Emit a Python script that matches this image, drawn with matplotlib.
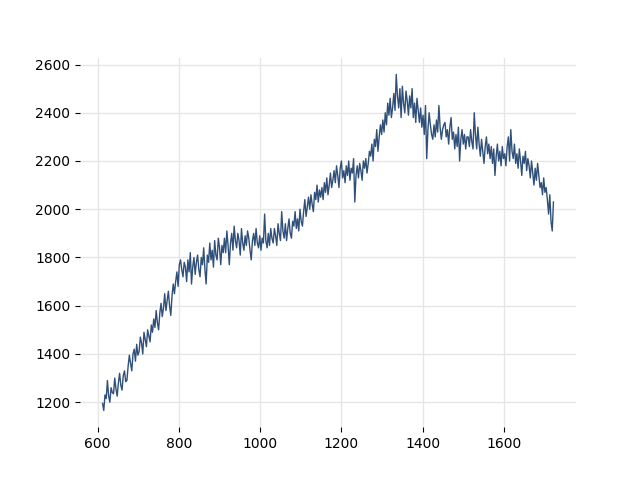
import numpy as np
import matplotlib
matplotlib.use("Agg")
import matplotlib.pyplot as plt

# x sampled every 3 units from 612 to 1722
x = np.arange(612, 1723, 3)
y = [
    1195, 1166, 1230, 1215, 1290, 1225, 1200, 1260, 1240, 1235,
    1300, 1255, 1225, 1280, 1320, 1270, 1250, 1310, 1330, 1285,
    1290, 1350, 1395, 1360, 1330, 1400, 1420, 1370, 1440, 1395,
    1410, 1470, 1445, 1400, 1490, 1460, 1430, 1500, 1475, 1450,
    1520, 1490, 1545, 1510, 1580, 1530, 1500, 1570, 1610, 1555,
    1590, 1650, 1580, 1620, 1660, 1600, 1560, 1640, 1690, 1650,
    1700, 1740, 1680, 1770, 1790, 1750, 1720, 1780, 1760, 1700,
    1790, 1740, 1820, 1690, 1760, 1800, 1730, 1780, 1810, 1750,
    1720, 1800, 1770, 1840, 1750, 1690, 1810, 1780, 1860, 1790,
    1830, 1760, 1870, 1810, 1790, 1880, 1840, 1770, 1850, 1820,
    1880, 1820, 1910, 1850, 1770, 1860, 1900, 1830, 1930, 1870,
    1840, 1900, 1870, 1810, 1920, 1860, 1830, 1890, 1850, 1910,
    1880, 1830, 1790, 1870, 1900, 1850, 1920, 1860, 1840, 1890,
    1830, 1880, 1860, 1980, 1870, 1840, 1900, 1850, 1920, 1880,
    1860, 1920, 1890, 1850, 1940, 1900, 1870, 1990, 1910, 1880,
    1940, 1870, 1920, 1960, 1900, 1880, 1950, 1930, 1990, 1920,
    1960, 1910, 2000, 1950, 1930, 1990, 2040, 1970, 2010, 2050,
    2000, 2060, 2020, 1990, 2070, 2040, 2100, 2030, 2080, 2050,
    2090, 2040, 2110, 2070, 2130, 2060, 2100, 2150, 2090, 2120,
    2160, 2110, 2180, 2140, 2090, 2170, 2200, 2130, 2160, 2110,
    2180, 2140, 2200, 2120, 2170, 2150, 2210, 2030, 2140, 2180,
    2130, 2190, 2160, 2120, 2200, 2170, 2210, 2150, 2190, 2240,
    2220, 2270, 2200, 2290, 2260, 2330, 2240, 2300, 2350, 2310,
    2370, 2320, 2400, 2350, 2440, 2390, 2460, 2380, 2420, 2480,
    2410, 2559, 2470, 2420, 2500, 2380, 2510, 2440, 2400, 2490,
    2450, 2390, 2470, 2420, 2500, 2380, 2440, 2360, 2460, 2410,
    2360, 2420, 2340, 2390, 2310, 2430, 2210, 2330, 2400, 2350,
    2310, 2290, 2350, 2300, 2370, 2320, 2430, 2340, 2290, 2330,
    2350, 2360, 2300, 2330, 2270, 2340, 2380, 2290, 2320, 2250,
    2310, 2260, 2340, 2200, 2290, 2330, 2270, 2310, 2250, 2300,
    2300, 2260, 2330, 2280, 2250, 2400, 2310, 2250, 2340, 2270,
    2220, 2290, 2240, 2190, 2260, 2300, 2230, 2270, 2210, 2260,
    2190, 2250, 2140, 2220, 2270, 2200, 2240, 2180, 2260, 2210,
    2230, 2180, 2260, 2300, 2200, 2330, 2240, 2210, 2270, 2190,
    2230, 2170, 2250, 2200, 2140, 2220, 2190, 2240, 2160, 2210,
    2180, 2130, 2200, 2150, 2100, 2170, 2120, 2190, 2140, 2090,
    2110, 2060, 2130, 2070, 2090, 2040, 1980, 2060, 1950, 1910,
    2030,
]

fig = plt.figure(figsize=(6.4, 4.8), dpi=100)
ax = fig.add_subplot(111)
ax.plot(x, y, color="#30507a", linewidth=1.0)
ax.grid(True, color="#e6e6e6", linewidth=1)
ax.set_axisbelow(True)
for s in ax.spines.values():
    s.set_visible(False)
ax.set_yticks([1200, 1400, 1600, 1800, 2000, 2200, 2400, 2600])
ax.set_xticks([600, 800, 1000, 1200, 1400, 1600])
fig.savefig("out.png")
